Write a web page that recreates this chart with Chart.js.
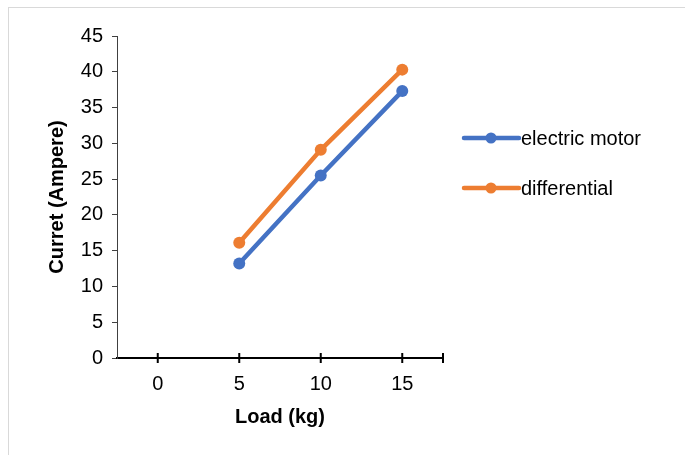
<!DOCTYPE html>
<html>
<head>
<meta charset="utf-8">
<script src="https://cdn.jsdelivr.net/npm/chart.js@4.4.1/dist/chart.umd.min.js"></script>
<style>
    html, body { margin: 0; padding: 0; background: #fff; }
    #wrap { position: relative; width: 685px; height: 455px; overflow: hidden; }
    #frame { position: absolute; left: 8px; top: 7px; width: 690px; height: 460px; border: 1px solid #d9d9d9; }
    canvas { position: absolute; left: 0; top: 0; }
</style>
</head>
<body>
<div id="wrap">
    <div id="frame"></div>
    <canvas id="chart" width="685" height="455"></canvas>
</div>
<script>
// values
const loadLabels = ["0", "5", "10", "15"];
const motorCurrent = [null, 13.2, 25.5, 37.3];
const diffCurrent = [null, 16.1, 29.1, 40.3];
const seriesNames = ["electric motor", "differential"];
const seriesColors = ["#4472C4", "#ED7D31"];

const FONT = "'Liberation Sans', Arial, sans-serif";

// tick marks that cross the x axis, like the original
const crossTicks = {
    id: "crossTicks",
    afterDraw(chart) {
        const ctx = chart.ctx;
        const x = chart.scales.x;
        const yPix = chart.chartArea.bottom;
        const spots = x.ticks.map((t, i) => x.getPixelForTick(i));
        spots.push(chart.chartArea.right);
        ctx.save();
        ctx.strokeStyle = "#000";
        ctx.lineWidth = 2;
        spots.forEach(px => {
            ctx.beginPath();
            ctx.moveTo(px, yPix - 5);
            ctx.lineTo(px, yPix + 5);
            ctx.stroke();
        });
        ctx.restore();
    }
};

// legend on the right: line with a dot, then the name
const sideLegend = {
    id: "sideLegend",
    afterDraw(chart) {
        const ctx = chart.ctx;
        const left = chart.chartArea.right + 21;
        let top = 138;
        ctx.save();
        ctx.font = "20px " + FONT;
        ctx.textBaseline = "middle";
        chart.data.datasets.forEach(ds => {
            ctx.strokeStyle = ds.borderColor;
            ctx.lineWidth = 4.5;
            ctx.lineCap = "round";
            ctx.beginPath();
            ctx.moveTo(left, top);
            ctx.lineTo(left + 55, top);
            ctx.stroke();
            ctx.fillStyle = ds.borderColor;
            ctx.beginPath();
            ctx.arc(left + 27, top, 5.5, 0, Math.PI * 2);
            ctx.fill();
            ctx.fillStyle = "#000";
            ctx.fillText(ds.label, left + 57, top + 1);
            top += 50;
        });
        ctx.restore();
    }
};

new Chart(document.getElementById("chart"), {
    type: "line",
    data: {
        labels: loadLabels,
        datasets: [
            { label: seriesNames[0], data: motorCurrent, borderColor: seriesColors[0], backgroundColor: seriesColors[0] },
            { label: seriesNames[1], data: diffCurrent, borderColor: seriesColors[1], backgroundColor: seriesColors[1] }
        ]
    },
    options: {
        responsive: false,
        animation: false,
        devicePixelRatio: 1,
        layout: { padding: { left: 42, right: 242, top: 36, bottom: 26 } },
        elements: {
            line: { borderWidth: 4.5, tension: 0 },
            point: { radius: 6, borderWidth: 0, pointStyle: "circle" }
        },
        plugins: {
            legend: { display: false },
            tooltip: { enabled: false }
        },
        scales: {
            x: {
                type: "category",
                offset: true,
                grid: { display: false },
                border: { display: true, color: "#000", width: 2 },
                ticks: { color: "#000", padding: 6, font: { family: FONT, size: 20 } },
                title: { display: true, text: "Load (kg)", color: "#000", padding: { top: 3, bottom: 0 }, font: { family: FONT, size: 20, weight: "bold" } }
            },
            y: {
                min: 0,
                max: 45,
                afterFit: s => { s.width = 75; },
                ticks: { stepSize: 5, color: "#000", padding: 9, font: { family: FONT, size: 20 } },
                grid: { drawOnChartArea: false, tickLength: 5, color: "#404040" },
                border: { display: true, color: "#404040", width: 1 },
                title: { display: true, text: "Curret (Ampere)", color: "#000", padding: { top: 3, bottom: 0 }, font: { family: FONT, size: 20, weight: "bold" } }
            }
        }
    },
    plugins: [crossTicks, sideLegend]
});
</script>
</body>
</html>
